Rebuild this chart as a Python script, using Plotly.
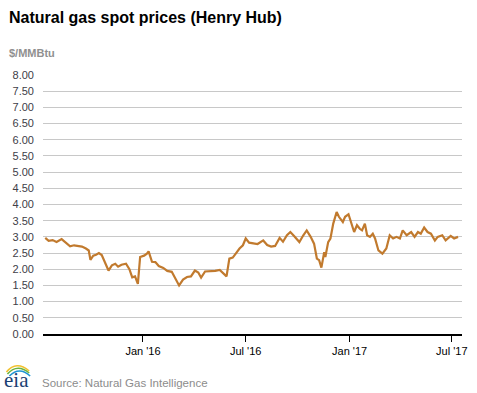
import plotly.graph_objects as go

dates = [
"2015-07-12","2015-07-18","2015-07-25","2015-08-01","2015-08-10","2015-08-18","2015-08-25","2015-09-01",
"2015-09-08","2015-09-15","2015-09-22","2015-09-27","2015-09-30","2015-10-05","2015-10-10","2015-10-15",
"2015-10-20","2015-10-26","2015-11-01","2015-11-07","2015-11-13","2015-11-18","2015-11-24","2015-12-02",
"2015-12-08","2015-12-13","2015-12-18","2015-12-23","2015-12-27","2016-01-03","2016-01-08","2016-01-11",
"2016-01-17","2016-01-23","2016-01-29","2016-02-06","2016-02-13","2016-02-21","2016-02-28","2016-03-05",
"2016-03-12","2016-03-19","2016-03-26","2016-04-02","2016-04-08","2016-04-13","2016-04-20","2016-04-28",
"2016-05-08","2016-05-16","2016-05-24","2016-05-28","2016-06-02","2016-06-08","2016-06-14","2016-06-20",
"2016-06-26","2016-07-01","2016-07-07","2016-07-14","2016-07-22","2016-08-01","2016-08-08","2016-08-15",
"2016-08-22","2016-08-30","2016-09-05","2016-09-12","2016-09-18","2016-09-25","2016-10-04","2016-10-11",
"2016-10-17","2016-10-24","2016-10-30","2016-11-04","2016-11-08","2016-11-12","2016-11-17","2016-11-19",
"2016-11-24","2016-11-28","2016-12-03","2016-12-09","2016-12-13","2016-12-20","2016-12-24","2016-12-30",
"2017-01-05","2017-01-09","2017-01-14","2017-01-19","2017-01-23","2017-01-28","2017-02-01","2017-02-06",
"2017-02-11","2017-02-15","2017-02-21","2017-02-28","2017-03-07","2017-03-13","2017-03-19","2017-03-25",
"2017-03-31","2017-04-05","2017-04-12","2017-04-20","2017-04-26","2017-05-02","2017-05-07","2017-05-13",
"2017-05-19","2017-05-25","2017-06-01","2017-06-06","2017-06-14","2017-06-20","2017-06-29","2017-07-05",
"2017-07-12"]

prices = [
2.97,2.88,2.90,2.84,2.93,2.80,2.71,2.74,
2.72,2.70,2.64,2.58,2.29,2.42,2.45,2.50,
2.44,2.20,1.96,2.12,2.17,2.08,2.14,2.17,
2.00,1.75,1.78,1.55,2.38,2.42,2.48,2.55,
2.23,2.22,2.10,2.04,1.95,1.92,1.70,1.50,
1.68,1.76,1.78,1.96,1.90,1.74,1.93,1.93,
1.95,1.98,1.86,1.78,2.33,2.36,2.50,2.64,
2.74,2.95,2.82,2.80,2.78,2.89,2.75,2.70,
2.72,2.97,2.85,3.05,3.15,3.02,2.84,3.05,
3.20,3.00,2.79,2.33,2.28,2.05,2.53,2.38,
2.84,2.95,3.41,3.77,3.62,3.46,3.62,3.70,
3.41,3.15,3.36,3.25,3.20,3.41,3.05,3.00,
3.10,2.95,2.58,2.48,2.64,3.05,2.95,3.00,
2.95,3.20,3.05,3.15,3.00,3.15,3.10,3.29,
3.15,3.10,2.89,3.00,3.05,2.89,3.03,2.95,
3.00]

x_tick_vals = ["2016-01-01", "2016-07-01", "2017-01-01", "2017-07-01"]
x_tick_text = ["Jan '16", "Jul '16", "Jan '17", "Jul '17"]
y_tick_vals = [i * 0.5 for i in range(17)]
y_tick_text = ["%.2f" % v for v in y_tick_vals]

title_text = "Natural gas spot prices (Henry Hub)"
unit_text = "$/MMBtu"
source_text = "Source: Natural Gas Intelligence"

W, H = 477, 393
L, R, T, B = 43, 10, 75, 59
pw, ph = W - L - R, H - T - B

def px(x):
    return (x - L) / pw

def py(y):
    return (H - B - y) / ph

fig = go.Figure()
fig.add_trace(go.Scatter(x=dates, y=prices, mode="lines",
                         line=dict(color="#c17a2e", width=2.2), hoverinfo="skip"))

annotations = [
    dict(text="<b>" + title_text + "</b>", xref="paper", yref="paper", x=px(7), y=py(17),
         xanchor="left", yanchor="middle", showarrow=False,
         font=dict(family="Liberation Sans, Arial", size=16, color="#000000")),
    dict(text="<b>" + unit_text + "</b>", xref="paper", yref="paper", x=px(7), y=py(53),
         xanchor="left", yanchor="middle", showarrow=False,
         font=dict(family="Liberation Sans, Arial", size=11, color="#909090")),
    dict(text=source_text, xref="paper", yref="paper", x=px(40), y=py(383),
         xanchor="left", yanchor="middle", showarrow=False,
         font=dict(family="Liberation Sans, Arial", size=11.5, color="#8c8c8c")),
    dict(text="eia", xref="paper", yref="paper", x=px(2), y=py(380),
         xanchor="left", yanchor="middle", showarrow=False,
         font=dict(family="Liberation Serif, DejaVu Serif", size=21, color="#1b3f73")),
]

def arc(x0, y0, cx, cy, x1, y1):
    return "M %f %f Q %f %f %f %f" % (px(x0), py(y0), px(cx), py(cy), px(x1), py(y1))

shapes = [
    dict(type="path", xref="paper", yref="paper", path=arc(6, 372, 16, 360, 29, 371),
         line=dict(color="#f2c12e", width=1.6)),
    dict(type="path", xref="paper", yref="paper", path=arc(7, 374, 17, 363, 29, 373),
         line=dict(color="#6cb33f", width=1.6)),
    dict(type="path", xref="paper", yref="paper", path=arc(9, 376, 19, 366, 30, 376),
         line=dict(color="#1f95d3", width=1.6)),
]

fig.update_layout(
    width=W, height=H,
    margin=dict(l=L, r=R, t=T, b=B),
    paper_bgcolor="white", plot_bgcolor="white",
    showlegend=False,
    annotations=annotations,
    shapes=shapes,
    xaxis=dict(type="date", range=["2015-07-08", "2017-07-19"],
               tickvals=x_tick_vals, ticktext=x_tick_text,
               ticks="outside", ticklen=6, tickcolor="#000000", tickwidth=1,
               showgrid=False, showline=True, linecolor="#000000", linewidth=1.5,
               zeroline=False,
               tickfont=dict(family="Liberation Sans, Arial", size=11, color="#000000")),
    yaxis=dict(range=[0, 8], tickvals=y_tick_vals, ticktext=y_tick_text,
               showgrid=True, gridcolor="#c8c8c8", gridwidth=1,
               zeroline=False, showline=False, ticks="", ticklabelstandoff=8,
               tickfont=dict(family="Liberation Sans, Arial", size=11, color="#404048")),
)

fig.write_html("out.html")
